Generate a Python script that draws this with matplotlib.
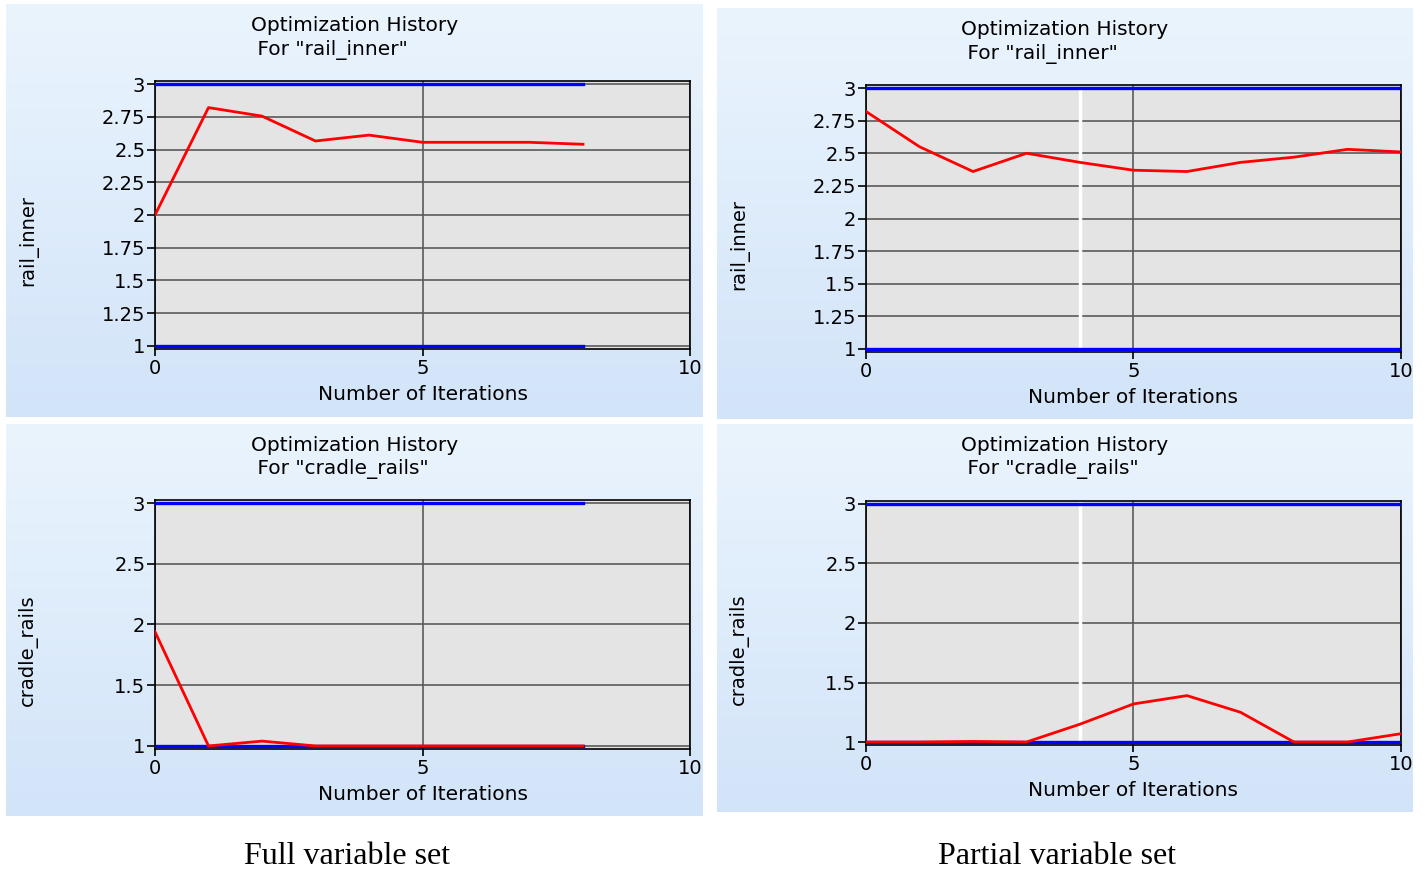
import numpy as np
import matplotlib
matplotlib.use("Agg")
import matplotlib.pyplot as plt

# Data
iters_full = [0, 1, 2, 3, 4, 5, 6, 7, 8]
rail_full = [2.0, 2.82, 2.755, 2.565, 2.61, 2.555, 2.555, 2.555, 2.54]
cradle_full = [1.94, 1.0, 1.04, 1.0, 1.0, 1.0, 1.0, 1.0, 1.0]

iters_part = [0, 1, 2, 3, 4, 5, 6, 7, 8, 9, 10]
rail_part = [2.82, 2.55, 2.36, 2.5, 2.43, 2.37, 2.36, 2.43, 2.47, 2.53, 2.51]
cradle_part = [1.0, 1.0, 1.005, 1.0, 1.15, 1.32, 1.39, 1.25, 1.0, 1.0, 1.07]

lower_bound = 1.0
upper_bound = 3.0
current_iter = 4  # white marker on the partial runs

W, H = 1425, 874
fig = plt.figure(figsize=(W / 100, H / 100), dpi=100)
fig.patch.set_facecolor("white")


def frac(x0, y0, x1, y1):
    # pixel box (top-left origin) -> figure fraction rect
    return [x0 / W, 1 - y1 / H, (x1 - x0) / W, (y1 - y0) / H]


grad = np.linspace(0, 1, 256).reshape(-1, 1)
top_col = np.array([0.918, 0.957, 0.992])
bot_col = np.array([0.824, 0.894, 0.976])
grad_img = top_col[None, None, :] * (1 - grad[:, :, None]) + bot_col[None, None, :] * grad[:, :, None]


def panel(bg_box, ax_box, x, y, ylabel, yticks, ylim, bound_end, marker=None):
    bg = fig.add_axes(frac(*bg_box))
    bg.imshow(grad_img, aspect="auto", extent=[0, 1, 0, 1])
    bg.set_axis_off()
    bg.set_zorder(0)

    ax = fig.add_axes(frac(*ax_box))
    ax.set_zorder(1)
    ax.set_facecolor("#e4e4e4")
    ax.set_xlim(0, 10)
    ax.set_ylim(*ylim)
    ax.set_xticks([0, 5, 10])
    ax.set_yticks(yticks)
    ax.set_yticklabels([f"{t:g}" for t in yticks])
    ax.grid(True, color="#5a5a5a", linewidth=1.2)
    ax.set_axisbelow(True)
    for s in ax.spines.values():
        s.set_color("black")
        s.set_linewidth(1.2)
    ax.tick_params(axis="y", length=6, width=1.2, pad=1, labelsize=14, colors="black")
    ax.tick_params(axis="x", length=5, width=1.2, pad=2, labelsize=14)

    if marker is not None:
        ax.plot([marker, marker], [ylim[0] + 0.04, ylim[1] - 0.02], color="white", lw=2.5, zorder=2)
    ax.plot([0, bound_end], [upper_bound, upper_bound], color="#0000ff", lw=2.4, zorder=3)
    ax.plot([0, bound_end], [lower_bound, lower_bound], color="#0000ff", lw=2.4, zorder=3)
    ax.plot(x, y, color="#ff0000", lw=2.0, zorder=4)

    ax.set_xlabel("Number of Iterations", fontsize=14.5, labelpad=5)
    cx = (bg_box[0] + bg_box[2]) / 2
    fig.text(cx / W, 1 - (bg_box[1] + 12) / H,
             "Optimization History\n For \"%s\"" % ylabel,
             ha="center", va="top", fontsize=14.5, linespacing=1.3,
             multialignment="left")
    fig.text((bg_box[0] + 22) / W, 1 - ((ax_box[1] + ax_box[3]) / 2 + 26) / H, ylabel,
             rotation=90, ha="center", va="center", fontsize=14)
    return ax


ticks_fine = [1, 1.25, 1.5, 1.75, 2, 2.25, 2.5, 2.75, 3]
ticks_coarse = [1, 1.5, 2, 2.5, 3]

panel((6, 4, 703, 417), (155, 81, 690, 349), iters_full, rail_full,
      "rail_inner", ticks_fine, (0.977, 3.023), 8)
panel((717, 8, 1413, 419), (866, 85, 1401, 352), iters_part, rail_part,
      "rail_inner", ticks_fine, (0.977, 3.023), 10, marker=current_iter)
panel((6, 424, 703, 816), (155, 500, 690, 749), iters_full, cradle_full,
      "cradle_rails", ticks_coarse, (0.975, 3.025), 8)
panel((717, 424, 1413, 812), (866, 501, 1401, 745), iters_part, cradle_part,
      "cradle_rails", ticks_coarse, (0.975, 3.025), 10, marker=current_iter)

fig.text(347 / W, 1 - 856 / H, "Full variable set", ha="center", va="center",
         fontsize=23, family="Liberation Serif")
fig.text(1057 / W, 1 - 856 / H, "Partial variable set", ha="center", va="center",
         fontsize=23, family="Liberation Serif")

fig.savefig("out.png", dpi=100)
